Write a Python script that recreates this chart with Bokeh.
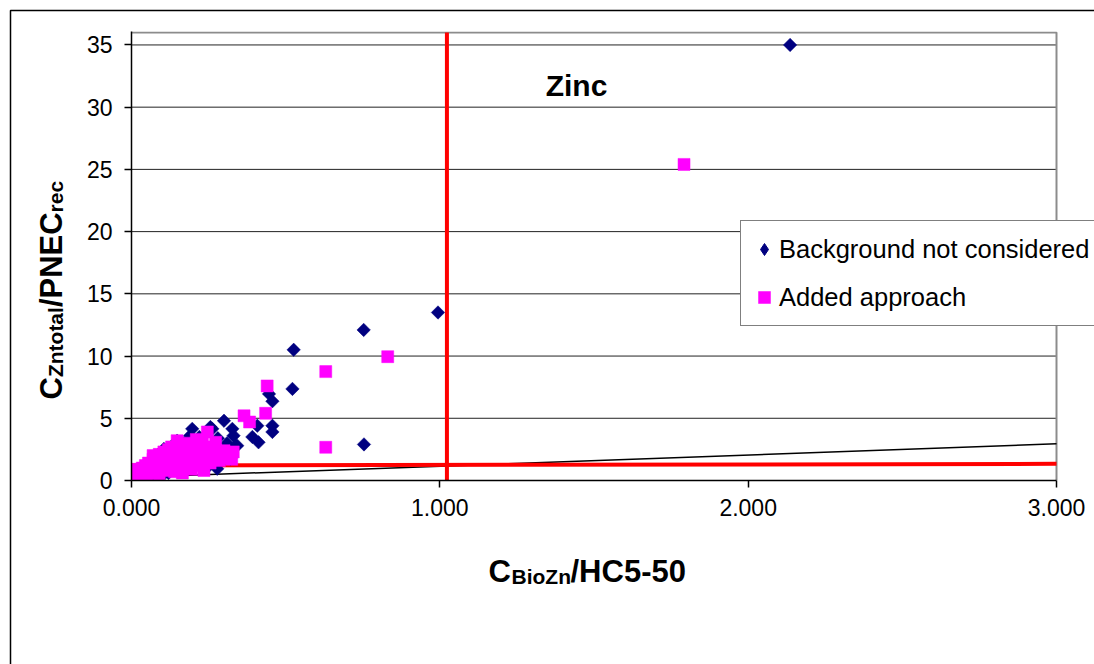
import math
from bokeh.plotting import figure
from bokeh.models import (Range1d, Legend, LegendItem, Label,
                          NumeralTickFormatter, FixedTicker, ColumnDataSource)
from bokeh.core.properties import value
from bokeh.embed import file_html
from bokeh.resources import INLINE

# ---------------- data ----------------
bg_x = [0.003, 0.01, 0.015, 0.02, 0.025, 0.03, 0.035, 0.04, 0.05, 0.055, 0.06, 0.07, 0.07, 0.08,
        0.085, 0.09, 0.1, 0.105, 0.11, 0.12, 0.125, 0.13, 0.14, 0.148, 0.15, 0.16, 0.17, 0.175,
        0.18, 0.19, 0.197, 0.2, 0.21, 0.22, 0.23, 0.24, 0.256, 0.262, 0.27, 0.278, 0.28, 0.29,
        0.30, 0.31, 0.321, 0.327, 0.331, 0.338, 0.343,
        0.392, 0.408, 0.412, 0.446, 0.457, 0.457, 0.457, 0.522, 0.526, 0.754, 0.753, 0.994, 2.136]
bg_y = [0.05, 0.2, 0.5, 0.1, 0.8, 0.0, 0.4, 1.0, 0.2, 1.3, 0.6, 0.0, 1.6, 0.3,
        2.0, 1.1, 0.4, 2.54, 1.5, 0.6, 2.2, 1.0, 2.8, 3.2, 0.8, 1.8, 3.0, 0.7,
        2.4, 3.6, 4.15, 1.2, 2.9, 3.5, 1.9, 0.9, 4.3, 4.15, 2.6, 0.94, 3.4, 2.0,
        4.8, 3.0, 1.74, 4.15, 3.6, 2.8, 2.8,
        3.5, 4.4, 3.07, 6.96, 6.37, 4.4, 3.9, 7.36, 10.5, 2.9, 12.1, 13.5, 35.0]

add_x = [0.005, 0.008, 0.012, 0.015, 0.02, 0.02, 0.025, 0.03, 0.035, 0.04, 0.045, 0.05, 0.05,
         0.055, 0.06, 0.065, 0.07, 0.07, 0.075, 0.08, 0.085, 0.09, 0.09, 0.1, 0.1, 0.105, 0.11,
         0.115, 0.12, 0.12, 0.125, 0.13, 0.135, 0.14, 0.14, 0.148, 0.15, 0.155, 0.16, 0.165,
         0.17, 0.175, 0.18, 0.185, 0.19, 0.195, 0.2, 0.205, 0.21, 0.215, 0.22, 0.225, 0.23,
         0.235, 0.24, 0.246, 0.25, 0.255, 0.26, 0.265, 0.273, 0.28, 0.285, 0.29, 0.3, 0.305,
         0.31, 0.32, 0.325, 0.33,
         0.365, 0.383, 0.435, 0.44, 0.63, 0.63, 0.831, 1.792]
add_y = [0.2, 0.4, 0.3, 0.6, 0.5, 0.9, 0.3, 0.7, 1.0, 0.5, 1.2, 0.8, 0.3,
         1.4, 1.0, 0.6, 1.7, 2.0, 1.3, 0.9, 1.6, 2.1, 0.5, 1.2, 1.9, 2.3, 0.8,
         1.5, 2.5, 2.0, 1.1, 2.7, 1.7, 0.7, 2.3, 3.2, 1.4, 2.9, 2.0, 0.6,
         2.5, 1.2, 3.0, 1.8, 2.2, 0.9, 2.8, 1.5, 3.3, 2.0, 2.5, 1.2, 3.0,
         0.8, 1.8, 3.9, 2.2, 1.4, 2.7, 1.9, 3.07, 2.3, 1.6, 2.0, 2.4, 1.8,
         2.2, 2.0, 1.7, 2.3,
         5.2, 4.7, 5.4, 7.6, 8.75, 2.67, 9.95, 25.4]

trend_x = [0.0, 3.0]
trend_y = [0.25, 2.95]
hline_x = [0.0, 3.0]
hline_y = [1.2, 1.34]
vline_x = [1.023, 1.023]
vline_y = [0.0, 36.0]

x_ticks = [0, 1, 2, 3]
y_ticks = [0, 5, 10, 15, 20, 25, 30, 35]
x_max = 3.0
y_max = 36.0

series_names = ["Background not considered", "Added approach"]
title_text = "Zinc"
xlabel_parts = ["C", "BioZn", "/HC5-50"]
ylabel_parts = ["C", "Zntotal", "/PNEC", "rec"]

FONT = "Liberation Sans"
NAVY = "#000080"
MAGENTA = "#FF00FF"

# ---------------- figure ----------------
# frame: left 131 px, bottom 480 px, top 31 px; extends to right canvas edge
PX_PER_X = 925 / 3.0
PX_PER_Y = 448 / 36.0
x_end = (1094 - 131) / PX_PER_X
y_end = (480 - 31) / PX_PER_Y

p = figure(width=1094, height=664, output_backend="svg", toolbar_location=None,
           x_range=Range1d(0, x_end), y_range=Range1d(0, y_end),
           min_border_left=131, min_border_right=0, min_border_top=31,
           min_border_bottom=184)
p.background_fill_color = "white"
p.border_fill_color = "white"
p.outline_line_color = None
p.xgrid.visible = False
p.ygrid.visible = False

p.xaxis.ticker = FixedTicker(ticks=x_ticks)
p.yaxis.ticker = FixedTicker(ticks=y_ticks)
p.xaxis.formatter = NumeralTickFormatter(format="0.000")
p.xaxis.bounds = (0, x_max)
for ax in (p.xaxis, p.yaxis):
    ax.axis_line_color = "black"
    ax.axis_line_width = 1.5
    ax.major_tick_line_color = "black"
    ax.major_tick_line_width = 1.5
    ax.major_tick_out = 7
    ax.major_tick_in = 0
    ax.minor_tick_line_color = None
    ax.major_label_text_font = FONT
    ax.major_label_text_font_size = "23px"
    ax.major_label_text_color = "black"
p.xaxis.major_label_standoff = 11
p.yaxis.major_label_standoff = 12

# horizontal grid lines limited to the plot area, and plot-area border (top/right)
grid_y = [t for t in y_ticks if t > 0]
p.segment(x0=[0] * len(grid_y), x1=[x_max] * len(grid_y), y0=grid_y, y1=grid_y,
          line_color="#222222", line_width=1)
p.line([0, x_max, x_max], [y_max, y_max, 0], line_color="#8c8c8c", line_width=2)

# lines
p.line(trend_x, trend_y, line_color="black", line_width=1.5)
p.line(hline_x, hline_y, line_color="#FF0000", line_width=4)
p.line(vline_x, vline_y, line_color="#FF0000", line_width=4)

# scatter
src_bg = ColumnDataSource(dict(x=bg_x, y=bg_y))
src_add = ColumnDataSource(dict(x=add_x, y=add_y))
r_bg = p.scatter("x", "y", source=src_bg, marker="square", size=9.5, angle=math.pi / 4,
                 fill_color=NAVY, line_color=NAVY, line_width=0.5)
r_add = p.scatter("x", "y", source=src_add, marker="square", size=12,
                  fill_color=MAGENTA, line_color=MAGENTA, line_width=0.5)
# legend-only renderer (diamond swatch); its single point lies outside the visible area
r_bg_leg = p.scatter(x=[-1.0], y=[-10.0], marker="diamond", size=14,
                     fill_color=NAVY, line_color=NAVY)


def px2x(px):
    return (px - 131) / PX_PER_X


def py2y(py):
    return (480 - py) / PX_PER_Y


# title text "Zinc"
p.add_layout(Label(x=px2x(576), y=py2y(85), text=title_text,
                   text_font=FONT, text_font_size="30px", text_font_style="bold",
                   text_align="center", text_baseline="alphabetic", text_color="black"))

# x axis label with subscript (overlay-level text glyphs, outside the frame)
xl_pos = [(488, 571, "31px"), (511, 576, "21px"), (570, 571, "31px")]
for t, (px, py, fs) in zip(xlabel_parts, xl_pos):
    p.text(x=[px2x(px)], y=[py2y(py)], text=[t], text_font=value(FONT), text_font_size=fs,
           text_font_style="bold", text_align="left", text_baseline="alphabetic",
           text_color="black", level="overlay")

# y axis label, rotated (reads bottom to top)
yl_pos = [(51, 399, "31px"), (55, 376.6, "21px"), (51, 306.6, "31px"), (55, 211.9, "21px")]
for t, (px, py, fs) in zip(ylabel_parts, yl_pos):
    p.text(x=[px2x(px)], y=[py2y(py)], text=[t], text_font=value(FONT), text_font_size=fs,
           text_font_style="bold", text_align="left", text_baseline="alphabetic",
           angle=math.pi / 2, text_color="black", level="overlay")

# outer chart-area border (left and top edges)
p.line(x=[px2x(10), px2x(10), px2x(1300)], y=[py2y(900), py2y(10), py2y(10)],
       line_color="black", line_width=1.5, level="overlay")

# legend
legend = Legend(items=[LegendItem(label=series_names[0], renderers=[r_bg_leg]),
                       LegendItem(label=series_names[1], renderers=[r_add])],
                location=(609, 154))
legend.label_text_font = FONT
legend.label_text_font_size = "25.5px"
legend.label_text_color = "black"
legend.glyph_width = 30
legend.glyph_height = 40
legend.label_height = 40
legend.label_width = 340
legend.label_standoff = 0
legend.spacing = 8
legend.padding = 8
legend.margin = 0
legend.border_line_color = "black"
legend.border_line_width = 1
legend.background_fill_color = "white"
legend.background_fill_alpha = 1
p.add_layout(legend, "center")

open("out.html", "w").write(file_html(p, INLINE))
